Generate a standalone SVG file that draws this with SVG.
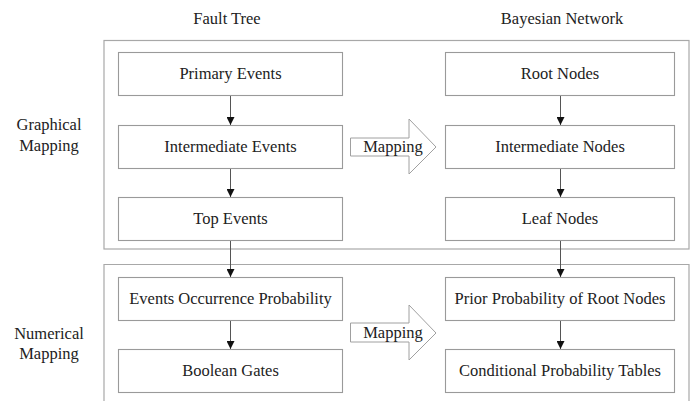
<svg xmlns="http://www.w3.org/2000/svg" width="693" height="401" viewBox="0 0 693 401">
<style>
text{font-family:"Liberation Serif","Times New Roman",serif;font-size:16.5px;fill:#222;text-anchor:middle}
.frame{fill:none;stroke:#a8a8a8;stroke-width:1.2}
.box{fill:#fff;stroke:#9a9a9a;stroke-width:1.1}
.conn{stroke:#555;stroke-width:1;fill:none;marker-end:url(#ah)}
.map{fill:#fff;stroke:#a0a0a0;stroke-width:1}
</style>
<defs>
<marker id="ah" markerWidth="8" markerHeight="8" refX="8" refY="4" orient="auto" markerUnits="userSpaceOnUse">
<path d="M0,0 L8,4 L0,8 Z" fill="#111"/>
</marker>
</defs>
<rect width="693" height="401" fill="#fff"/>
<text x="227" y="24">Fault Tree</text>
<text x="562" y="24">Bayesian Network</text>
<text x="49" y="130">Graphical</text>
<text x="49" y="151">Mapping</text>
<text x="49" y="339">Numerical</text>
<text x="49" y="359">Mapping</text>
<rect class="frame" x="104" y="40.5" width="585" height="208.5"/>
<path class="frame" d="M104,402 V264.5 H689 V402"/>
<g id="connectors">
<line class="conn" x1="230.5" y1="95" x2="230.5" y2="125"/>
<line class="conn" x1="230.5" y1="168" x2="230.5" y2="197"/>
<line class="conn" x1="230.5" y1="241" x2="230.5" y2="277"/>
<line class="conn" x1="230.5" y1="320" x2="230.5" y2="349"/>
<line class="conn" x1="560.5" y1="95" x2="560.5" y2="125"/>
<line class="conn" x1="560.5" y1="168" x2="560.5" y2="197"/>
<line class="conn" x1="560.5" y1="241" x2="560.5" y2="277"/>
<line class="conn" x1="560.5" y1="320" x2="560.5" y2="349"/>
</g>
<g id="map1">
<path class="map" d="M350.5,138 H409 V119 L436,147 L409,174 V156 H350.5 Z"/>
<text x="393" y="152">Mapping</text>
</g>
<g id="map2">
<path class="map" d="M350.5,323 H409 V305 L436,333 L409,360 V342 H350.5 Z"/>
<text x="393" y="338">Mapping</text>
</g>
<g id="primary"><rect class="box" x="118.5" y="52.5" width="224" height="43"/><text x="230.5" y="79">Primary Events</text></g>
<g id="intermediate"><rect class="box" x="118.5" y="125.5" width="224" height="43"/><text x="230.5" y="152">Intermediate Events</text></g>
<g id="top"><rect class="box" x="118.5" y="197.5" width="224" height="43"/><text x="230.5" y="224">Top Events</text></g>
<g id="occurrence"><rect class="box" x="118.5" y="277.5" width="224" height="43"/><text x="230.5" y="304">Events Occurrence Probability</text></g>
<g id="boolean"><rect class="box" x="118.5" y="349.5" width="224" height="43"/><text x="230.5" y="376">Boolean Gates</text></g>
<g id="root"><rect class="box" x="445.5" y="52.5" width="229" height="43"/><text x="560" y="79">Root Nodes</text></g>
<g id="intnodes"><rect class="box" x="445.5" y="125.5" width="229" height="43"/><text x="560" y="152">Intermediate Nodes</text></g>
<g id="leaf"><rect class="box" x="445.5" y="197.5" width="229" height="43"/><text x="560" y="224">Leaf Nodes</text></g>
<g id="prior"><rect class="box" x="445.5" y="277.5" width="229" height="43"/><text x="560" y="304">Prior Probability of Root Nodes</text></g>
<g id="cpt"><rect class="box" x="445.5" y="349.5" width="229" height="43"/><text x="560" y="376">Conditional Probability Tables</text></g>
</svg>
